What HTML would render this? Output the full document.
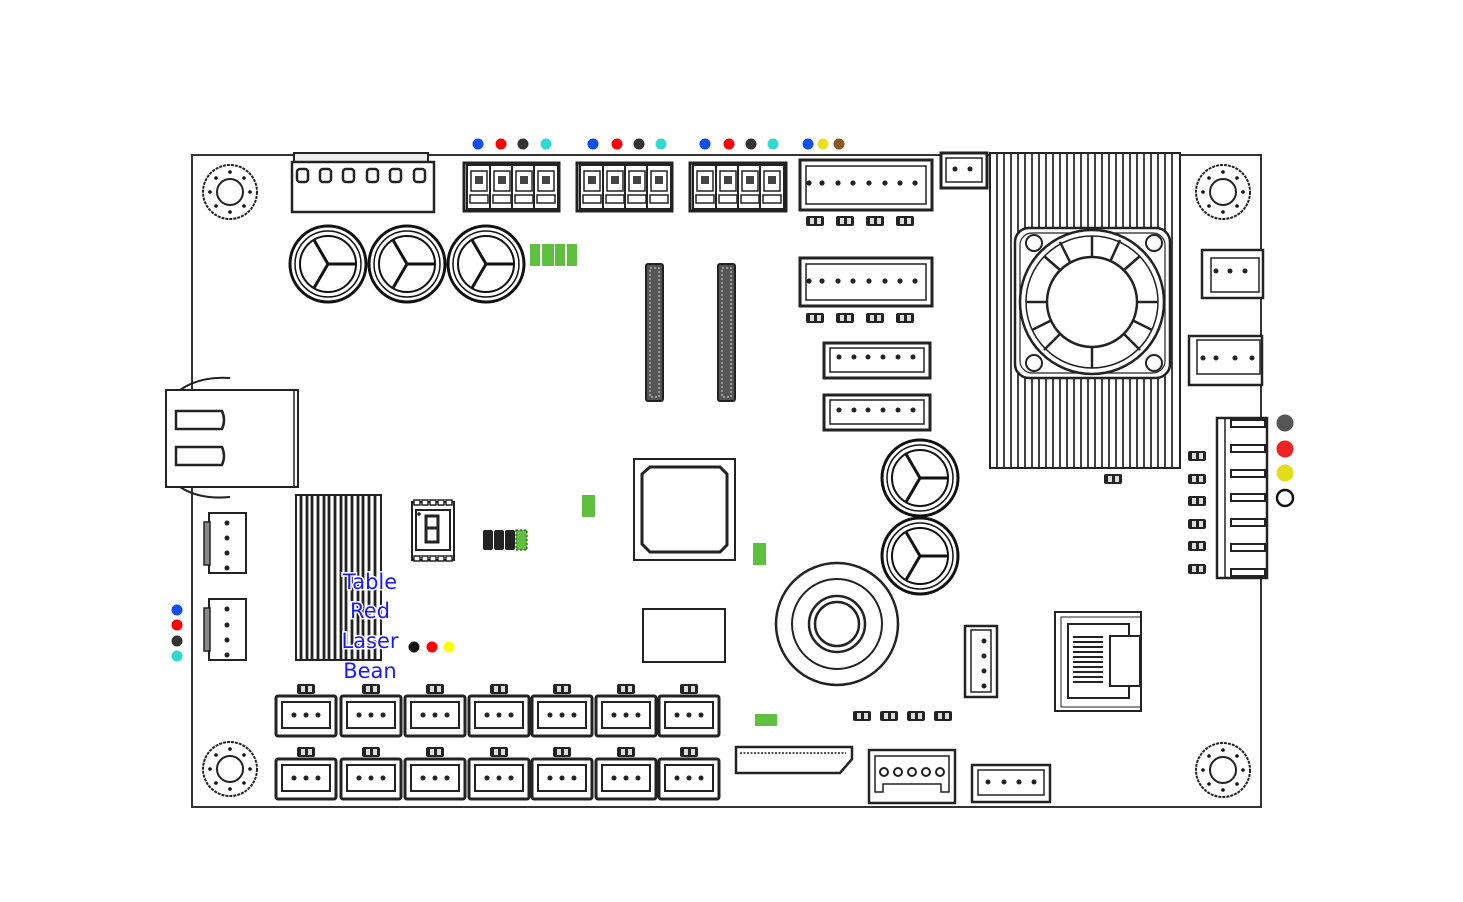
<!DOCTYPE html>
<html><head><meta charset="utf-8">
<style>
html,body{margin:0;padding:0;background:#fff;}
svg{display:block;}
text{font-family:"DejaVu Sans","Liberation Sans",sans-serif;}
</style></head>
<body>
<svg width="1463" height="902" viewBox="0 0 1463 902" xmlns="http://www.w3.org/2000/svg">
<defs>
  <g id="hole">
    <circle r="27" fill="none" stroke="#222" stroke-width="2" stroke-dasharray="3 1"/>
    <circle r="13" fill="none" stroke="#222" stroke-width="2"/>
    <circle cx="0" cy="-20" r="1.8" fill="#111"/><circle cx="0" cy="20" r="1.8" fill="#111"/>
    <circle cx="-20" cy="0" r="1.8" fill="#111"/><circle cx="20" cy="0" r="1.8" fill="#111"/>
    <circle cx="-14" cy="-14" r="1.8" fill="#111"/><circle cx="14" cy="-14" r="1.8" fill="#111"/>
    <circle cx="-14" cy="14" r="1.8" fill="#111"/><circle cx="14" cy="14" r="1.8" fill="#111"/>
  </g>
  <g id="cap">
    <circle r="38" fill="#fff" stroke="#111" stroke-width="3"/>
    <circle r="33" fill="none" stroke="#111" stroke-width="1.5"/>
    <circle r="28" fill="none" stroke="#111" stroke-width="2"/>
    <path d="M0 0 L28 0 M0 0 L-14 -24 M0 0 L-14 24" stroke="#111" stroke-width="3" fill="none"/>
  </g>
  <g id="chip">
    <rect x="-9" y="-5" width="18" height="10" rx="2" fill="#222"/>
    <rect x="-5" y="-3" width="4" height="6" fill="#ddd"/><rect x="2" y="-3" width="4" height="6" fill="#ddd"/>
  </g>
  <g id="c3">
    <rect x="0" y="0" width="60" height="40" rx="2" fill="#fff" stroke="#222" stroke-width="3"/>
    <rect x="6" y="6" width="48" height="26" fill="#fff" stroke="#222" stroke-width="2"/>
    <circle cx="18" cy="19" r="2.5" fill="#222"/><circle cx="30" cy="19" r="2.5" fill="#222"/><circle cx="42" cy="19" r="2.5" fill="#222"/>
  </g>
  <g id="term">
    <rect x="0" y="0" width="24" height="44" fill="#fff" stroke="#222" stroke-width="2"/>
    <rect x="4" y="6" width="16" height="20" fill="#fff" stroke="#222" stroke-width="1.5"/>
    <rect x="8" y="11" width="8" height="8" fill="#444"/>
    <path d="M3 30 h18 v8 h-18z" fill="none" stroke="#222" stroke-width="1.5"/>
  </g>
</defs>

<rect x="192" y="155" width="1069" height="652" fill="#fff" stroke="#333" stroke-width="2"/>

<use href="#hole" x="230" y="192"/><use href="#hole" x="1223" y="192"/>
<use href="#hole" x="230" y="769"/><use href="#hole" x="1223" y="770"/>

<rect x="294" y="153" width="134" height="9" fill="#eee" stroke="#222" stroke-width="2"/>
<rect x="292" y="162" width="142" height="50" fill="#fff" stroke="#222" stroke-width="2.5"/>
<g fill="#fff" stroke="#222" stroke-width="2.5">
<rect x="297" y="169" width="11" height="13" rx="3"/><rect x="320" y="169" width="11" height="13" rx="3"/>
<rect x="343" y="169" width="11" height="13" rx="3"/><rect x="367" y="169" width="11" height="13" rx="3"/>
<rect x="390" y="169" width="11" height="13" rx="3"/><rect x="414" y="169" width="11" height="13" rx="3"/>
</g>

<g>
<rect x="464" y="163" width="95" height="48" fill="#fff" stroke="#222" stroke-width="3"/>
<use href="#term" x="467" y="165"/><use href="#term" x="490" y="165"/><use href="#term" x="512" y="165"/><use href="#term" x="534" y="165"/>
<rect x="577" y="163" width="95" height="48" fill="#fff" stroke="#222" stroke-width="3"/>
<use href="#term" x="580" y="165"/><use href="#term" x="603" y="165"/><use href="#term" x="625" y="165"/><use href="#term" x="647" y="165"/>
<rect x="690" y="163" width="96" height="48" fill="#fff" stroke="#222" stroke-width="3"/>
<use href="#term" x="693" y="165"/><use href="#term" x="716" y="165"/><use href="#term" x="738" y="165"/><use href="#term" x="760" y="165"/>
</g>

<g>
<circle cx="478" cy="144" r="5.5" fill="#0a4ff5"/><circle cx="501" cy="144" r="5.5" fill="#f00"/><circle cx="523" cy="144" r="5.5" fill="#333"/><circle cx="546" cy="144" r="5.5" fill="#30d8d0"/>
<circle cx="593" cy="144" r="5.5" fill="#0a4ff5"/><circle cx="617" cy="144" r="5.5" fill="#f00"/><circle cx="639" cy="144" r="5.5" fill="#333"/><circle cx="661" cy="144" r="5.5" fill="#30d8d0"/>
<circle cx="705" cy="144" r="5.5" fill="#0a4ff5"/><circle cx="729" cy="144" r="5.5" fill="#f00"/><circle cx="751" cy="144" r="5.5" fill="#333"/><circle cx="773" cy="144" r="5.5" fill="#30d8d0"/>
<circle cx="808" cy="144" r="5.5" fill="#0a4ff5"/><circle cx="823" cy="144" r="5.5" fill="#e8e020"/><circle cx="839" cy="144" r="5.5" fill="#8a5a20"/>
</g>

<use href="#cap" x="328" y="264"/><use href="#cap" x="407" y="264"/><use href="#cap" x="486" y="264"/>
<g fill="#5fbf3f"><rect x="530" y="244" width="10" height="22"/><rect x="542" y="244" width="12" height="22"/><rect x="555" y="244" width="10" height="22"/><rect x="567" y="244" width="10" height="22"/></g>

<g>
<rect x="646" y="264" width="17" height="137" rx="2" fill="#555" stroke="#222" stroke-width="2"/>
<rect x="650" y="268" width="9" height="129" fill="none" stroke="#ddd" stroke-width="1" stroke-dasharray="2 2"/>
<rect x="718" y="264" width="17" height="137" rx="2" fill="#555" stroke="#222" stroke-width="2"/>
<rect x="722" y="268" width="9" height="129" fill="none" stroke="#ddd" stroke-width="1" stroke-dasharray="2 2"/>
</g>

<g>
<rect x="800" y="160" width="132" height="50" fill="#fff" stroke="#222" stroke-width="3"/>
<rect x="806" y="166" width="120" height="38" fill="none" stroke="#222" stroke-width="1.5"/>
<g fill="#222"><circle cx="809" cy="183" r="2.6"/><circle cx="822" cy="183" r="2.6"/><circle cx="838" cy="183" r="2.6"/><circle cx="853" cy="183" r="2.6"/><circle cx="869" cy="183" r="2.6"/><circle cx="885" cy="183" r="2.6"/><circle cx="900" cy="183" r="2.6"/><circle cx="915" cy="183" r="2.6"/></g>
<use href="#chip" x="815" y="221"/><use href="#chip" x="845" y="221"/><use href="#chip" x="875" y="221"/><use href="#chip" x="905" y="221"/>
<rect x="800" y="258" width="132" height="48" fill="#fff" stroke="#222" stroke-width="3"/>
<rect x="806" y="264" width="120" height="36" fill="none" stroke="#222" stroke-width="1.5"/>
<g fill="#222"><circle cx="809" cy="281" r="2.6"/><circle cx="822" cy="281" r="2.6"/><circle cx="838" cy="281" r="2.6"/><circle cx="853" cy="281" r="2.6"/><circle cx="869" cy="281" r="2.6"/><circle cx="885" cy="281" r="2.6"/><circle cx="900" cy="281" r="2.6"/><circle cx="915" cy="281" r="2.6"/></g>
<use href="#chip" x="815" y="318"/><use href="#chip" x="845" y="318"/><use href="#chip" x="875" y="318"/><use href="#chip" x="905" y="318"/>
</g>
<g>
<rect x="824" y="343" width="106" height="35" fill="#fff" stroke="#222" stroke-width="3"/>
<rect x="830" y="348" width="94" height="24" fill="none" stroke="#222" stroke-width="1.5"/>
<g fill="#222"><circle cx="839" cy="357" r="2.5"/><circle cx="854" cy="357" r="2.5"/><circle cx="868" cy="357" r="2.5"/><circle cx="883" cy="357" r="2.5"/><circle cx="898" cy="357" r="2.5"/><circle cx="913" cy="357" r="2.5"/></g>
<rect x="824" y="395" width="106" height="35" fill="#fff" stroke="#222" stroke-width="3"/>
<rect x="830" y="400" width="94" height="24" fill="none" stroke="#222" stroke-width="1.5"/>
<g fill="#222"><circle cx="839" cy="410" r="2.5"/><circle cx="854" cy="410" r="2.5"/><circle cx="868" cy="410" r="2.5"/><circle cx="883" cy="410" r="2.5"/><circle cx="898" cy="410" r="2.5"/><circle cx="913" cy="410" r="2.5"/></g>
</g>
<rect x="941" y="153" width="46" height="35" fill="#fff" stroke="#222" stroke-width="3"/>
<rect x="946" y="158" width="36" height="24" fill="none" stroke="#222" stroke-width="1.5"/>
<circle cx="955" cy="169" r="2.5" fill="#222"/><circle cx="970" cy="169" r="2.5" fill="#222"/>

<!-- heatsink -->
<g stroke="#222" stroke-width="1.7" fill="none">
<rect x="990" y="153" width="190" height="315" fill="#fff" stroke-width="2"/>
<path d="M997 153v315M1004 153v315M1011 153v315M1018 153v315M1025 153v315M1032 153v315M1039 153v315M1046 153v315M1053 153v315M1060 153v315M1067 153v315M1074 153v315M1081 153v315M1088 153v315M1095 153v315M1102 153v315M1109 153v315M1116 153v315M1123 153v315M1130 153v315M1137 153v315M1144 153v315M1151 153v315M1158 153v315M1165 153v315M1172 153v315"/>
</g>
<rect x="1015" y="228" width="155" height="150" rx="14" fill="#fff" stroke="#222" stroke-width="2.5"/>
<rect x="1020" y="233" width="145" height="140" rx="12" fill="none" stroke="#222" stroke-width="1.2"/>
<circle cx="1034" cy="243" r="8" fill="none" stroke="#222" stroke-width="2"/><circle cx="1154" cy="243" r="8" fill="none" stroke="#222" stroke-width="2"/>
<circle cx="1034" cy="363" r="8" fill="none" stroke="#222" stroke-width="2"/><circle cx="1154" cy="363" r="8" fill="none" stroke="#222" stroke-width="2"/>
<circle cx="1092" cy="302" r="72" fill="#fff" stroke="#222" stroke-width="2.5"/>
<circle cx="1092" cy="302" r="66" fill="none" stroke="#222" stroke-width="1.5"/>
<g stroke="#222" stroke-width="2.5">
<path d="M1092 257 L1092 236 M1124 270 L1140 256 M1136 302 L1158 302 M1124 334 L1140 350 M1092 347 L1092 368 M1060 334 L1044 350 M1048 302 L1026 302 M1060 270 L1044 256 M1110 262 L1120 240 M1070 262 L1060 242 M1132 320 L1152 330 M1052 320 L1032 330"/>
</g>
<circle cx="1092" cy="302" r="45" fill="#fff" stroke="#222" stroke-width="2.5"/>
<use href="#chip" x="1113" y="479"/>

<rect x="1202" y="250" width="61" height="48" fill="#fff" stroke="#222" stroke-width="2.5"/>
<rect x="1211" y="258" width="48" height="34" fill="none" stroke="#222" stroke-width="1.5"/>
<circle cx="1216" cy="271" r="2.5" fill="#222"/><circle cx="1230" cy="271" r="2.5" fill="#222"/><circle cx="1245" cy="271" r="2.5" fill="#222"/>
<rect x="1189" y="336" width="73" height="49" fill="#fff" stroke="#222" stroke-width="2.5"/>
<rect x="1197" y="340" width="63" height="34" fill="none" stroke="#222" stroke-width="1.5"/>
<circle cx="1203" cy="358" r="2.5" fill="#222"/><circle cx="1216" cy="358" r="2.5" fill="#222"/><circle cx="1235" cy="358" r="2.5" fill="#222"/><circle cx="1252" cy="358" r="2.5" fill="#222"/>

<rect x="1217" y="418" width="50" height="160" fill="#fff" stroke="#222" stroke-width="2.5"/>
<line x1="1225" y1="418" x2="1225" y2="578" stroke="#222" stroke-width="1.5"/>
<g fill="#fff" stroke="#222" stroke-width="2">
<rect x="1231" y="420" width="34" height="7"/><rect x="1231" y="445" width="34" height="7"/><rect x="1231" y="470" width="34" height="7"/><rect x="1231" y="494" width="34" height="7"/><rect x="1231" y="519" width="34" height="7"/><rect x="1231" y="544" width="34" height="7"/><rect x="1231" y="569" width="34" height="7"/>
</g>
<use href="#chip" x="1197" y="456"/><use href="#chip" x="1197" y="479"/><use href="#chip" x="1197" y="501"/><use href="#chip" x="1197" y="524"/><use href="#chip" x="1197" y="546"/><use href="#chip" x="1197" y="569"/>
<circle cx="1285" cy="423" r="8.5" fill="#555"/><circle cx="1285" cy="449" r="8.5" fill="#ee2222"/><circle cx="1285" cy="473" r="8.5" fill="#e2dc1a"/><circle cx="1285" cy="498" r="8" fill="#fff" stroke="#111" stroke-width="2.5"/>

<path d="M180 390 Q200 376 230 378" stroke="#222" stroke-width="2" fill="none"/>
<path d="M180 487 Q200 500 230 497" stroke="#222" stroke-width="2" fill="none"/>
<rect x="166" y="390" width="132" height="97" fill="#fff" stroke="#222" stroke-width="2"/>
<line x1="294" y1="390" x2="294" y2="487" stroke="#222" stroke-width="1.5"/>
<path d="M176 411 h46 q4 9 0 18 h-46z" fill="#fff" stroke="#222" stroke-width="2.5"/>
<path d="M176 447 h46 q4 9 0 18 h-46z" fill="#fff" stroke="#222" stroke-width="2.5"/>

<g>
<rect x="209" y="513" width="37" height="60" fill="#fff" stroke="#222" stroke-width="2"/>
<rect x="204" y="522" width="6" height="43" fill="#888" stroke="#222" stroke-width="1.5"/>
<circle cx="227" cy="523" r="2.5" fill="#222"/><circle cx="227" cy="538" r="2.5" fill="#222"/><circle cx="227" cy="553" r="2.5" fill="#222"/><circle cx="227" cy="568" r="2.5" fill="#222"/>
<rect x="209" y="599" width="37" height="61" fill="#fff" stroke="#222" stroke-width="2"/>
<rect x="204" y="608" width="6" height="43" fill="#888" stroke="#222" stroke-width="1.5"/>
<circle cx="227" cy="609" r="2.5" fill="#222"/><circle cx="227" cy="625" r="2.5" fill="#222"/><circle cx="227" cy="640" r="2.5" fill="#222"/><circle cx="227" cy="655" r="2.5" fill="#222"/>
</g>
<circle cx="177" cy="610" r="5.5" fill="#0a4ff5"/><circle cx="177" cy="625" r="5.5" fill="#f00"/><circle cx="177" cy="641" r="5.5" fill="#333"/><circle cx="177" cy="656" r="5.5" fill="#30d8d0"/>

<rect x="296" y="495" width="85" height="165" fill="#fff" stroke="#222" stroke-width="2"/>
<g stroke="#222" stroke-width="2.8">
<path d="M301 495v165M307 495v165M312 495v165M318 495v165M324 495v165M329 495v165M335 495v165M341 495v165M346 495v165M352 495v165M358 495v165M363 495v165M369 495v165M375 495v165"/>
</g>

<rect x="412" y="502" width="42" height="58" fill="#fff" stroke="#222" stroke-width="2"/>
<rect x="416" y="510" width="34" height="40" fill="#fff" stroke="#222" stroke-width="2"/>
<path d="M426 516 h12 v12 h-12z M426 528 h12 v14 h-12z" fill="none" stroke="#222" stroke-width="3"/>
<circle cx="419" cy="514" r="1.8" fill="#222"/>
<g fill="#fff" stroke="#222" stroke-width="1.5">
<rect x="414" y="500" width="6" height="5"/><rect x="422" y="500" width="6" height="5"/><rect x="430" y="500" width="6" height="5"/><rect x="438" y="500" width="6" height="5"/><rect x="446" y="500" width="6" height="5"/>
<rect x="414" y="556" width="6" height="5"/><rect x="422" y="556" width="6" height="5"/><rect x="430" y="556" width="6" height="5"/><rect x="438" y="556" width="6" height="5"/><rect x="446" y="556" width="6" height="5"/>
</g>
<rect x="483" y="530" width="10" height="20" rx="2" fill="#222"/><rect x="494" y="530" width="10" height="20" rx="2" fill="#222"/><rect x="505" y="530" width="10" height="20" rx="2" fill="#222"/>
<rect x="516" y="530" width="11" height="20" fill="#5fbf3f" stroke="#222" stroke-width="1" stroke-dasharray="2 2"/>
<rect x="582" y="495" width="13" height="22" fill="#5fbf3f"/>
<rect x="753" y="543" width="13" height="22" fill="#5fbf3f"/>
<rect x="755" y="714" width="22" height="12" fill="#5fbf3f"/>

<rect x="634" y="459" width="101" height="101" fill="#fff" stroke="#222" stroke-width="2"/>
<path d="M650 467 h70 l7 7 v71 l-7 7 h-70 l-8 -8 v-70z" fill="none" stroke="#222" stroke-width="3"/>
<rect x="643" y="609" width="82" height="53" fill="#fff" stroke="#222" stroke-width="2"/>

<use href="#cap" x="920" y="478"/><use href="#cap" x="920" y="556"/>
<circle cx="837" cy="624" r="61" fill="#fff" stroke="#222" stroke-width="2.5"/>
<circle cx="837" cy="624" r="45" fill="none" stroke="#222" stroke-width="2"/>
<circle cx="837" cy="624" r="28" fill="none" stroke="#222" stroke-width="2.5"/>
<circle cx="837" cy="624" r="22" fill="none" stroke="#222" stroke-width="2.5"/>

<rect x="965" y="626" width="32" height="71" fill="#fff" stroke="#222" stroke-width="2.5"/>
<rect x="971" y="630" width="20" height="62" fill="none" stroke="#222" stroke-width="1.5"/>
<circle cx="984" cy="641" r="2.5" fill="#222"/><circle cx="984" cy="656" r="2.5" fill="#222"/><circle cx="984" cy="671" r="2.5" fill="#222"/><circle cx="984" cy="686" r="2.5" fill="#222"/>

<rect x="1055" y="612" width="86" height="99" fill="#fff" stroke="#222" stroke-width="2"/>
<rect x="1061" y="617" width="80" height="90" fill="none" stroke="#222" stroke-width="1"/>
<rect x="1068" y="624" width="61" height="74" fill="#fff" stroke="#222" stroke-width="2"/>
<rect x="1110" y="636" width="30" height="50" fill="#fff" stroke="#222" stroke-width="2"/>
<g stroke="#222" stroke-width="2"><path d="M1073 637h30M1073 642h30M1073 647h30M1073 652h30M1073 657h30M1073 662h30M1073 667h30M1073 672h30M1073 677h30M1073 682h30"/></g>

<use href="#chip" x="862" y="716"/><use href="#chip" x="889" y="716"/><use href="#chip" x="916" y="716"/><use href="#chip" x="943" y="716"/>

<g>
<use href="#chip" x="306" y="689"/><use href="#chip" x="371" y="689"/><use href="#chip" x="435" y="689"/><use href="#chip" x="499" y="689"/><use href="#chip" x="562" y="689"/><use href="#chip" x="626" y="689"/><use href="#chip" x="689" y="689"/>
<use href="#c3" x="276" y="696"/><use href="#c3" x="341" y="696"/><use href="#c3" x="405" y="696"/><use href="#c3" x="469" y="696"/><use href="#c3" x="532" y="696"/><use href="#c3" x="596" y="696"/><use href="#c3" x="659" y="696"/>
<use href="#chip" x="306" y="752"/><use href="#chip" x="371" y="752"/><use href="#chip" x="435" y="752"/><use href="#chip" x="499" y="752"/><use href="#chip" x="562" y="752"/><use href="#chip" x="626" y="752"/><use href="#chip" x="689" y="752"/>
<use href="#c3" x="276" y="759"/><use href="#c3" x="341" y="759"/><use href="#c3" x="405" y="759"/><use href="#c3" x="469" y="759"/><use href="#c3" x="532" y="759"/><use href="#c3" x="596" y="759"/><use href="#c3" x="659" y="759"/>
</g>

<path d="M736 747 h116 v12 l-12 14 h-104z" fill="#fff" stroke="#222" stroke-width="2.5"/>
<line x1="740" y1="753" x2="846" y2="753" stroke="#555" stroke-width="2" stroke-dasharray="2 1.5"/>
<rect x="869" y="750" width="86" height="53" fill="#fff" stroke="#222" stroke-width="2.5"/>
<path d="M875 756 h74 v36 h-8 v-8 h-58 v8 h-8z" fill="none" stroke="#222" stroke-width="1.5"/>
<g fill="#fff" stroke="#222" stroke-width="2"><circle cx="884" cy="772" r="4"/><circle cx="898" cy="772" r="4"/><circle cx="912" cy="772" r="4"/><circle cx="926" cy="772" r="4"/><circle cx="940" cy="772" r="4"/></g>
<rect x="972" y="765" width="78" height="37" fill="#fff" stroke="#222" stroke-width="2.5"/>
<rect x="978" y="770" width="66" height="25" fill="none" stroke="#222" stroke-width="1.5"/>
<circle cx="988" cy="782" r="2.5" fill="#222"/><circle cx="1004" cy="782" r="2.5" fill="#222"/><circle cx="1019" cy="782" r="2.5" fill="#222"/><circle cx="1034" cy="782" r="2.5" fill="#222"/>

<g font-size="21" fill="#1a1aff" text-anchor="middle" stroke="#fff" stroke-width="3" paint-order="stroke">
<text x="370" y="589">Table</text>
<text x="370" y="618">Red</text>
<text x="370" y="648">Laser</text>
<text x="370" y="678">Bean</text>
</g>
<circle cx="414" cy="647" r="5.5" fill="#111"/><circle cx="432" cy="647" r="5.5" fill="#f00"/><circle cx="449" cy="647" r="5.5" fill="#ff0"/>
</svg>
</body></html>
